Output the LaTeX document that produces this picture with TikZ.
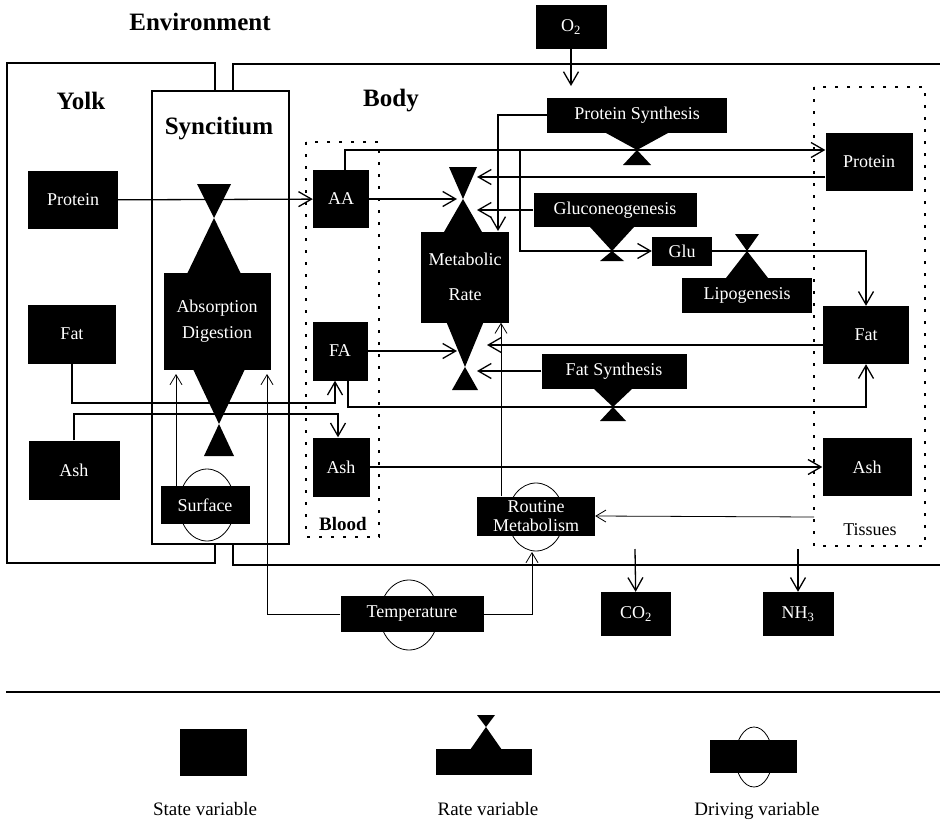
\documentclass[tikz,border=0pt]{standalone}
\usepackage{fontspec}
\setmainfont{Liberation Serif}
\usetikzlibrary{arrows.meta}

\newcommand{\ratevalve}[6]{%
  \fill ({#1-#3},#4) -- (#1,#2) -- ({#1+#3},#4) -- cycle;
  \fill ({#1-#5},#6) -- (#1,#2) -- ({#1+#5},#6) -- cycle;}

\begin{document}
\begin{tikzpicture}[x=1pt,y=-1pt,line cap=butt,line join=miter]
\tikzset{statebox/.style={fill=black, text=white, inner sep=0pt, align=center, font=\fontsize{18}{16}\selectfont},
  flow/.style={line width=1.3pt, -{Straight Barb[length=13pt,width=15pt,line width=1.3pt]}},
  thinflow/.style={line width=0.8pt, -{Straight Barb[length=10pt,width=12pt,line width=0.8pt]}},
  wall/.style={line width=1.6pt},
  zone/.style={line width=1.3pt, dash pattern=on 3pt off 9pt},
  drive/.style={line width=0.8pt},
  region/.style={font=\fontsize{25}{28}\selectfont\bfseries},
  legendlab/.style={font=\fontsize{19}{22}\selectfont, anchor=base}}
\useasboundingbox (0,0) rectangle (940,827);

\node[region] (envlab) at (200,22) {Environment};
\draw[wall] (215,91) -- (215,63) -- (7,63) -- (7,563) -- (215,563) -- (215,544);
\draw[wall] (233,91) -- (233,64) -- (940,64);
\draw[wall] (233,544) -- (233,565) -- (940,565);
\draw[wall] (152,91) rectangle (289,544);
\node[region] (yolklab) at (81,101) {Yolk};
\node[region] (synclab) at (219,129) {Syncitium};
\node[region] (bodylab) at (391,101) {Body};
\draw[zone] (306,142) rectangle (379,537);
\node[font=\fontsize{19}{22}\selectfont\bfseries] (bloodlab) at (343,524) {Blood};
\draw[zone] (814,87) rectangle (925,546);
\node[font=\fontsize{18}{22}\selectfont] (tisslab) at (870,530) {Tissues};

\node[statebox, minimum width=71pt, minimum height=44pt] (o2) at (571,27) {O\textsubscript{2}};
\node[statebox, minimum width=70pt, minimum height=44pt] (co2) at (636,614) {CO\textsubscript{2}};
\node[statebox, minimum width=71pt, minimum height=44pt] (nh3) at (798,614) {NH\textsubscript{3}};

\node[statebox, minimum width=90pt, minimum height=58pt] (yprot) at (73,200) {Protein};
\node[statebox, minimum width=88pt, minimum height=59pt] (yfat) at (72,334) {Fat};
\node[statebox, minimum width=91pt, minimum height=59pt] (yash) at (74,470) {Ash};
\node[statebox, minimum width=56pt, minimum height=58pt] (aa) at (341,199) {AA};
\node[statebox, minimum width=55pt, minimum height=59pt] (fa) at (340,351) {FA};
\node[statebox, minimum width=57pt, minimum height=59pt] (bash) at (341,467) {Ash};
\node[statebox, minimum width=87pt, minimum height=58pt] (tprot) at (869,162) {Protein};
\node[statebox, minimum width=86pt, minimum height=58pt] (tfat) at (866,335) {Fat};
\node[statebox, minimum width=89pt, minimum height=58pt] (tash) at (867,467) {Ash};
\node[statebox, minimum width=60pt, minimum height=29pt] (glu) at (682,251) {Glu};

\node[statebox, minimum width=180pt, minimum height=35pt] (psyn) at (637,115) {Protein Synthesis};
\ratevalve{637}{150}{31}{133}{14}{165}
\node[statebox, minimum width=163pt, minimum height=34pt] (gluco) at (615,210) {Gluconeogenesis};
\ratevalve{612}{251}{22}{227}{12}{261}
\node[statebox, minimum width=130pt, minimum height=35pt] (lipo) at (747,295) {Lipogenesis};
\ratevalve{747}{251}{21}{278}{12}{234}
\node[statebox, minimum width=145pt, minimum height=35pt] (fsyn) at (614,371) {Fat Synthesis};
\ratevalve{613}{407}{20}{388}{13}{421}
\node[statebox, minimum width=88pt, minimum height=91pt] (mr) at (465,277) {Metabolic\\[19pt]Rate};
\ratevalve{463}{199}{19}{232}{14}{167}
\ratevalve{465}{367}{19}{321}{13}{390}
\node[statebox, minimum width=107pt, minimum height=97pt] (absd) at (217,321) {Absorption\\[10pt]Digestion};
\ratevalve{214}{218}{27}{274}{17}{184}
\ratevalve{219}{424}{26}{369}{15}{456}

\draw[drive] (207,505) ellipse (28 and 36);
\node[statebox, minimum width=89pt, minimum height=38pt] (surf) at (205,505) {Surface};
\draw[drive] (536,517) ellipse (28 and 34);
\node[statebox, minimum width=118pt, minimum height=39pt] (rm) at (536,516) {Routine\\[3pt]Metabolism};
\draw[drive] (409,615) ellipse (29 and 35);
\node[statebox, minimum width=143pt, minimum height=36pt] (temp) at (412,614) {Temperature};

\coordinate (o2in) at (571,86);
\coordinate (psv) at (637,150);
\coordinate (glubranch) at (520,150);
\coordinate (mrin1) at (457,199);
\coordinate (mrin2) at (477,177);
\coordinate (mrin3) at (477,210);
\coordinate (mrps) at (498,231);
\coordinate (mrin4) at (457,351);
\coordinate (mrin5) at (487,345);
\coordinate (mrin6) at (477,371);
\coordinate (fsv) at (613,407);
\coordinate (fatrow) at (335,403);
\coordinate (ashrow) at (338,414);
\coordinate (tisedge) at (814,517);
\coordinate (rmin) at (532,552);
\coordinate (absin1) at (176,374);
\coordinate (absin2) at (267,374);
\coordinate (co2out) at (635,549);
\coordinate (nh3out) at (798,549);

\draw[flow] (o2) -- (o2in);
\draw[flow] (yprot) -- (aa);
\draw[flow] ([xshift=4pt]aa.north) |- (tprot.west |- psv);
\draw[flow] (glubranch) |- (glu.west);
\draw[flow] (aa.east) -- (mrin1);
\draw[flow] (tprot.west |- mrin2) -- (mrin2);
\draw[flow] (gluco.west) -- (mrin3);
\draw[flow] (psyn.west) -| (mrps);
\draw[flow] (glu.east) -| (tfat.north);
\draw[flow] (fa.east) -- (mrin4);
\draw[flow] (tfat.west |- mrin5) -- (mrin5);
\draw[flow] (fsyn.west) -- (mrin6);
\draw[flow] ([xshift=8pt]fa.south) |- (fsv) -| (tfat.south);
\draw[flow] (yfat.south) |- (fatrow) -- (fatrow |- fa.south);
\draw[flow] (yash.north) |- (ashrow) -- (ashrow |- bash.north);
\draw[flow] (bash.east) -- (tash.west);
\draw[thinflow] (tisedge) -- (rm.east);
\draw[thinflow] ([xshift=-35pt]rm.north) -- ([xshift=-35pt]rm.north |- mr.south);
\draw[thinflow] (temp.east) -| (rmin);
\draw[thinflow] (temp.west) -| (absin2);
\draw[thinflow] (surf.north -| absin1) -- (absin1);
\draw[flow] (co2out) -- (co2);
\draw[flow] (nh3out) -- (nh3);

\draw[line width=2.5pt] (6,692) -- (940,692);
\node[fill=black, minimum width=67pt, minimum height=47pt, inner sep=0pt] (legstate) at (213,752) {};
\node[fill=black, minimum width=96pt, minimum height=26pt, inner sep=0pt] (legrate) at (484,762) {};
\ratevalve{486}{727}{16}{750}{9}{715}
\draw[drive] (754,757) ellipse (18.5 and 30);
\node[fill=black, minimum width=87pt, minimum height=33pt, inner sep=0pt] (legdrive) at (753,756) {};
\node[legendlab] (legstatelab) at (205,815) {State variable};
\node[legendlab] (legratelab) at (488,815) {Rate variable};
\node[legendlab] (legdrivelab) at (757,815) {Driving variable};
\end{tikzpicture}
\end{document}
